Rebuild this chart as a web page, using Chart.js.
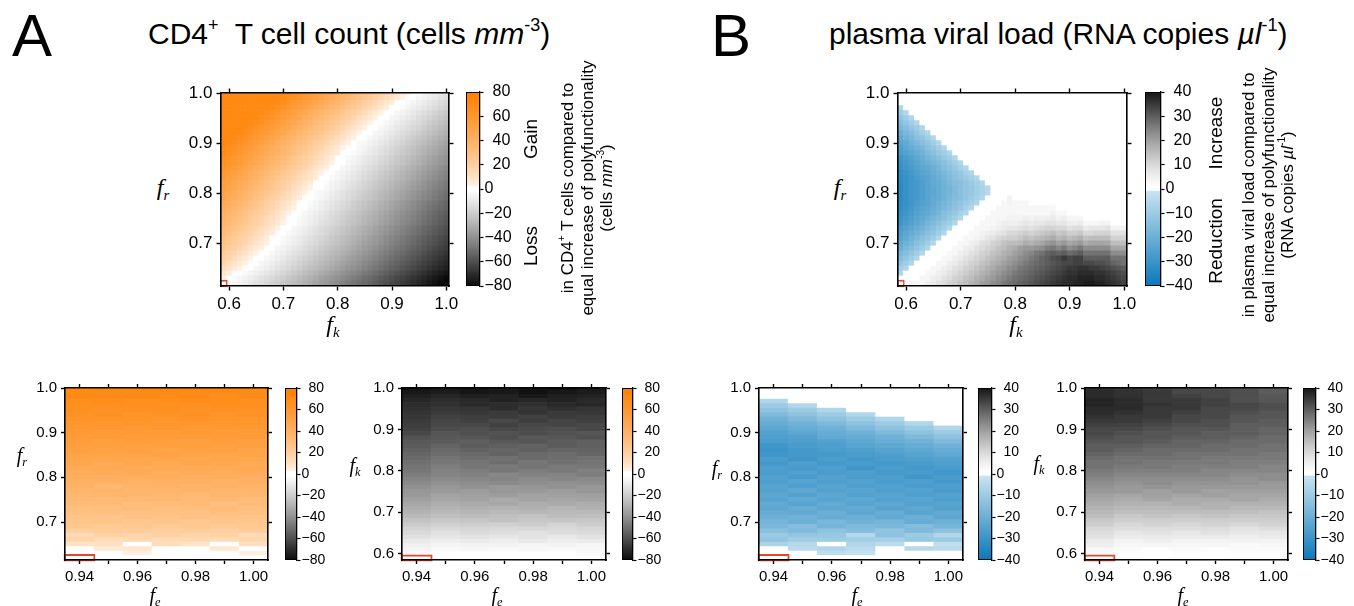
<!DOCTYPE html>
<html lang="en">
<head>
<meta charset="UTF-8">
<title>Polyfunctionality heatmaps</title>
<script src="https://cdn.jsdelivr.net/npm/chart.js@4"></script>
<style>
  html, body { margin: 0; background: #fff; }
  body { font-family: 'Liberation Sans', Arial, sans-serif; color: #000; }
  #page { position: relative; width: 1354px; height: 606px; }
  canvas { position: absolute; }
  .t { position: absolute; white-space: nowrap; line-height: 1; }
  .letter { font-size: 60px; }
  .title { font-size: 30px; }
  .sup { font-size: 60%; vertical-align: 0.75em; line-height: 0; }
  .ax { font-family: 'Liberation Serif', 'DejaVu Serif', serif; font-style: italic; transform: translate(-50%, -50%); }
  .ax sub { font-size: 62%; font-style: italic; vertical-align: -0.3em; }
  .big { font-size: 24px; }
  .small { font-size: 20px; }
  .rot { transform: translate(-50%, -50%) rotate(-90deg); text-align: center; }
  .word { font-size: 19px; }
  .note { font-size: 17px; line-height: 19.5px; }
</style>
</head>
<body>
<div id="page">
  <canvas id="cd4Main" width="292" height="235" style="left:171px;top:81px"></canvas>
  <canvas id="cd4MainBar" width="61" height="214" style="left:464px;top:82px"></canvas>
  <canvas id="viralMain" width="293" height="235" style="left:848px;top:81px"></canvas>
  <canvas id="viralMainBar" width="63" height="214" style="left:1143px;top:82px"></canvas>

  <canvas id="cd4Fr" width="255" height="210" style="left:21px;top:378px"></canvas>
  <canvas id="cd4FrBar" width="54" height="190" style="left:283px;top:379px"></canvas>
  <canvas id="cd4Fk" width="256" height="210" style="left:358px;top:378px"></canvas>
  <canvas id="cd4FkBar" width="53" height="190" style="left:620px;top:379px"></canvas>
  <canvas id="viralFr" width="256" height="210" style="left:715px;top:378px"></canvas>
  <canvas id="viralFrBar" width="56" height="190" style="left:976px;top:379px"></canvas>
  <canvas id="viralFk" width="255" height="210" style="left:1041px;top:378px"></canvas>
  <canvas id="viralFkBar" width="55" height="190" style="left:1301px;top:379px"></canvas>

  <div class="t letter" style="left:12px;top:6px">A</div>
  <div class="t title" style="left:148px;top:19px">CD4<span class="sup">+</span>&nbsp; T cell count (cells <i>mm</i><span class="sup">-3</span>)</div>
  <div class="t letter" style="left:711px;top:6px">B</div>
  <div class="t title" style="left:829px;top:19px">plasma viral load (RNA copies <i>µl</i><span class="sup">-1</span>)</div>

  <div class="t ax big" style="left:163px;top:189px"><i>f</i><sub>r</sub></div>
  <div class="t ax big" style="left:333px;top:326px"><i>f</i><sub>k</sub></div>
  <div class="t ax big" style="left:840px;top:189px"><i>f</i><sub>r</sub></div>
  <div class="t ax big" style="left:1016px;top:326px"><i>f</i><sub>k</sub></div>

  <div class="t ax small" style="left:22px;top:457px"><i>f</i><sub>r</sub></div>
  <div class="t ax small" style="left:155px;top:597px"><i>f</i><sub>e</sub></div>
  <div class="t ax small" style="left:355px;top:467px"><i>f</i><sub>k</sub></div>
  <div class="t ax small" style="left:497px;top:597px"><i>f</i><sub>e</sub></div>
  <div class="t ax small" style="left:717px;top:470px"><i>f</i><sub>r</sub></div>
  <div class="t ax small" style="left:857px;top:597px"><i>f</i><sub>e</sub></div>
  <div class="t ax small" style="left:1039px;top:465px"><i>f</i><sub>k</sub></div>
  <div class="t ax small" style="left:1183px;top:597px"><i>f</i><sub>e</sub></div>

  <div class="t rot word" style="left:530px;top:139px">Gain</div>
  <div class="t rot word" style="left:530px;top:246px">Loss</div>
  <div class="t rot note" style="left:587px;top:188px">in CD4<span class="sup">+</span> T cells compared to<br>equal increase of polyfunctionality<br>(cells <i>mm</i><span class="sup">-3</span>)</div>

  <div class="t rot word" style="left:1215px;top:133px">Increase</div>
  <div class="t rot word" style="left:1215px;top:241px">Reduction</div>
  <div class="t rot note" style="left:1268px;top:195px">in plasma viral load compared to<br>equal increase of polyfunctionality<br>(RNA copies <i>µl</i><span class="sup">-1</span>)</div>
</div>

<script>
// grid coordinates
const fkCols = [0.59,0.60,0.61,0.62,0.63,0.64,0.65,0.66,0.67,0.68,0.69,0.70,0.71,0.72,0.73,0.74,0.75,0.76,0.77,0.78,0.79,0.80,0.81,0.82,0.83,0.84,0.85,0.86,0.87,0.88,0.89,0.90,0.91,0.92,0.93,0.94,0.95,0.96,0.97,0.98,0.99,1.00];
const frRows = [1.00,0.99,0.98,0.97,0.96,0.95,0.94,0.93,0.92,0.91,0.90,0.89,0.88,0.87,0.86,0.85,0.84,0.83,0.82,0.81,0.80,0.79,0.78,0.77,0.76,0.75,0.74,0.73,0.72,0.71,0.70,0.69,0.68,0.67,0.66,0.65,0.64,0.63,0.62];
const fkRows = [1.00,0.99,0.98,0.97,0.96,0.95,0.94,0.93,0.92,0.91,0.90,0.89,0.88,0.87,0.86,0.85,0.84,0.83,0.82,0.81,0.80,0.79,0.78,0.77,0.76,0.75,0.74,0.73,0.72,0.71,0.70,0.69,0.68,0.67,0.66,0.65,0.64,0.63,0.62,0.61,0.60,0.59];
const feCols = [0.94,0.95,0.96,0.97,0.98,0.99,1.00];

// reference parameter set (red boxes)
const refMain = [0.59, 0.62];
const refFeFr = [0.94, 0.62];
const refFeFk = [0.94, 0.59];

// tick labels
const fkTicks = [0.6,0.7,0.8,0.9,1.0];
const frTicks = [0.7,0.8,0.9,1.0];
const feTicks = [0.94,0.95,0.96,0.97,0.98,0.99,1.00];
const cd4BarTicks = [-80,-60,-40,-20,0,20,40,60,80];
const viralBarTicks = [-40,-30,-20,-10,0,10,20,30,40];

// A, top: change in CD4+ T cells, rows fr (top to bottom) x cols fk
const cd4Fk = [
[72,72,72,72,72,72,72,72,72,72,72,72,71,68,65,62,59,56,53,50,47,43,40,37,34,31,28,25,22,19,16,12,9,6,3,0,-2,-4,-6,-8,-10,-12],
[72,72,72,72,72,72,72,72,72,72,72,71,68,65,62,59,56,53,50,47,43,40,37,34,31,28,25,22,19,16,12,9,6,3,0,-2,-4,-6,-8,-10,-12,-14],
[72,72,72,72,72,72,72,72,72,72,70,67,64,60,57,54,51,48,45,42,39,36,33,29,26,23,20,17,14,11,8,5,2,-1,-3,-5,-7,-9,-11,-13,-15,-17],
[72,72,72,72,72,72,72,72,72,70,67,64,60,57,54,51,48,45,42,39,36,33,29,26,23,20,17,14,11,8,5,2,-1,-3,-5,-7,-9,-11,-13,-15,-17,-19],
[72,72,72,72,72,72,72,71,68,65,62,59,56,53,50,47,43,40,37,34,31,28,25,22,19,16,12,9,6,3,0,-2,-4,-6,-8,-10,-12,-14,-16,-18,-20,-22],
[72,72,72,72,72,72,71,68,65,62,59,56,53,50,47,43,40,37,34,31,28,25,22,19,16,12,9,6,3,0,-2,-4,-6,-8,-10,-12,-14,-16,-18,-20,-22,-24],
[72,72,72,72,72,71,68,65,62,59,56,53,50,47,43,40,37,34,31,28,25,22,19,16,12,9,6,3,0,-2,-4,-6,-8,-10,-12,-14,-16,-18,-20,-22,-24,-26],
[72,72,72,72,71,68,65,62,59,56,53,50,47,43,40,37,34,31,28,25,22,19,16,12,9,6,3,0,-2,-4,-6,-8,-10,-12,-14,-16,-18,-20,-22,-24,-26,-28],
[72,72,72,71,68,65,62,59,56,53,50,47,43,40,37,34,31,28,25,22,19,16,12,9,6,3,0,-2,-4,-6,-8,-10,-12,-14,-16,-18,-20,-22,-24,-26,-28,-30],
[72,72,71,68,65,62,59,56,53,50,47,43,40,37,34,31,28,25,22,19,16,12,9,6,3,0,-2,-4,-6,-8,-10,-12,-14,-16,-18,-20,-22,-24,-26,-28,-30,-32],
[72,71,68,65,62,59,56,53,50,47,43,40,37,34,31,28,25,22,19,16,12,10,6,3,0,-3,-4,-6,-8,-10,-12,-14,-16,-18,-20,-22,-24,-26,-28,-30,-32,-34],
[71,68,65,62,59,56,53,50,47,43,40,37,34,31,28,25,22,19,16,12,9,6,3,0,-2,-4,-6,-8,-10,-12,-14,-16,-18,-20,-22,-24,-26,-28,-30,-32,-34,-36],
[70,67,64,60,57,54,51,48,45,42,39,36,33,29,26,23,20,17,14,11,8,5,2,-1,-3,-5,-7,-9,-11,-13,-15,-17,-19,-21,-23,-25,-27,-29,-31,-33,-35,-37],
[67,64,60,57,54,51,48,45,42,39,36,33,29,26,23,20,17,14,11,8,5,2,-1,-3,-5,-7,-9,-11,-13,-15,-17,-19,-21,-23,-25,-27,-29,-31,-33,-35,-37,-39],
[65,62,59,56,53,50,47,43,40,37,34,31,28,25,22,19,16,12,9,6,3,0,-2,-4,-6,-8,-10,-12,-14,-16,-18,-20,-22,-24,-26,-28,-30,-32,-34,-36,-38,-40],
[62,59,56,53,50,47,43,40,37,34,31,28,25,22,19,16,12,9,6,3,0,-2,-4,-6,-8,-10,-12,-14,-16,-18,-20,-22,-24,-26,-28,-30,-32,-34,-36,-38,-40,-42],
[59,56,53,50,47,43,40,37,34,31,28,25,22,19,16,12,9,6,3,0,-2,-4,-6,-8,-10,-12,-14,-16,-18,-20,-22,-24,-26,-28,-30,-32,-34,-36,-38,-40,-42,-44],
[57,54,51,48,45,42,39,36,33,29,26,23,20,17,14,11,8,5,2,-1,-3,-5,-7,-9,-11,-13,-15,-17,-19,-21,-23,-25,-27,-29,-31,-33,-35,-37,-39,-41,-43,-45],
[54,51,48,45,42,39,36,33,29,26,23,20,17,14,11,8,5,2,-1,-3,-5,-7,-9,-11,-13,-15,-17,-19,-21,-23,-25,-27,-29,-31,-33,-35,-37,-39,-41,-43,-45,-47],
[53,50,47,43,40,37,34,31,28,25,22,19,16,12,9,6,3,0,-2,-4,-6,-8,-10,-12,-14,-16,-18,-20,-22,-24,-26,-28,-30,-32,-34,-36,-38,-40,-42,-44,-46,-48],
[50,47,43,40,37,34,31,28,25,22,19,16,12,9,7,3,0,-3,-4,-6,-8,-10,-12,-14,-16,-18,-20,-22,-24,-26,-28,-30,-32,-34,-36,-38,-40,-42,-44,-46,-48,-50],
[48,45,42,39,36,33,29,26,23,20,17,14,11,8,5,2,-1,-3,-5,-7,-9,-11,-13,-15,-17,-19,-21,-23,-25,-27,-29,-31,-33,-35,-37,-39,-41,-43,-45,-47,-49,-51],
[45,42,39,36,33,29,26,23,20,17,14,11,8,5,2,-1,-3,-5,-7,-9,-11,-13,-15,-17,-19,-21,-23,-25,-27,-29,-31,-33,-35,-37,-39,-41,-43,-45,-47,-49,-51,-53],
[43,40,37,34,31,28,25,22,19,16,12,9,6,3,0,-2,-4,-6,-8,-10,-12,-14,-16,-18,-20,-22,-24,-26,-28,-30,-32,-34,-36,-38,-40,-42,-44,-46,-48,-50,-52,-54],
[40,37,34,31,28,25,22,19,16,12,9,6,3,0,-2,-4,-6,-8,-10,-12,-14,-16,-18,-20,-22,-24,-26,-28,-30,-32,-34,-36,-38,-40,-42,-44,-46,-48,-50,-52,-54,-56],
[39,36,33,29,26,23,20,17,14,11,8,5,2,-1,-3,-5,-7,-9,-11,-13,-15,-17,-19,-21,-23,-25,-27,-29,-31,-33,-35,-37,-39,-41,-43,-45,-47,-49,-51,-53,-55,-57],
[37,34,31,28,25,22,19,16,12,9,6,3,0,-2,-4,-6,-8,-10,-12,-14,-16,-18,-20,-22,-24,-26,-28,-30,-32,-34,-36,-38,-40,-42,-44,-46,-48,-50,-52,-54,-56,-58],
[34,31,28,25,22,19,16,12,9,6,3,0,-2,-4,-6,-8,-10,-12,-14,-16,-18,-20,-22,-24,-26,-28,-30,-32,-34,-36,-38,-40,-42,-44,-46,-48,-50,-52,-54,-56,-58,-60],
[33,29,26,23,20,17,14,11,8,5,2,-1,-3,-5,-7,-9,-11,-13,-15,-17,-19,-21,-23,-25,-27,-29,-31,-33,-35,-37,-39,-41,-43,-45,-47,-49,-51,-53,-55,-57,-59,-61],
[29,26,23,20,17,14,11,8,5,2,-1,-3,-5,-7,-9,-11,-13,-15,-17,-19,-21,-23,-25,-27,-29,-31,-33,-35,-37,-39,-41,-43,-45,-47,-49,-51,-53,-55,-57,-59,-61,-63],
[28,25,22,19,16,12,9,6,3,0,-2,-4,-6,-8,-10,-12,-14,-16,-18,-20,-22,-24,-26,-28,-30,-32,-34,-36,-38,-40,-42,-44,-46,-48,-50,-52,-54,-56,-58,-60,-62,-64],
[25,22,19,16,12,9,6,3,0,-2,-4,-6,-8,-10,-12,-14,-16,-18,-20,-22,-24,-26,-28,-30,-32,-34,-36,-38,-40,-42,-44,-46,-48,-50,-52,-54,-56,-58,-60,-62,-64,-66],
[22,19,16,12,9,6,3,0,-2,-4,-6,-8,-10,-12,-14,-16,-18,-20,-22,-24,-26,-28,-30,-32,-34,-36,-38,-40,-42,-44,-46,-48,-50,-52,-54,-56,-58,-60,-62,-64,-66,-68],
[19,16,12,9,6,3,0,-2,-4,-6,-8,-10,-12,-14,-16,-18,-20,-22,-24,-26,-28,-30,-32,-34,-36,-38,-40,-42,-44,-46,-48,-50,-52,-54,-56,-58,-60,-62,-64,-66,-68,-70],
[16,12,9,6,3,0,-2,-4,-6,-8,-10,-12,-14,-16,-18,-20,-22,-24,-26,-28,-30,-32,-34,-36,-38,-40,-42,-44,-46,-48,-50,-52,-54,-56,-58,-60,-62,-64,-66,-68,-70,-72],
[12,9,6,3,0,-2,-4,-6,-8,-10,-12,-14,-16,-18,-20,-22,-24,-26,-28,-30,-32,-34,-36,-38,-40,-42,-44,-46,-48,-50,-52,-54,-56,-58,-60,-62,-64,-66,-68,-70,-72,-74],
[8,5,2,-1,-3,-5,-7,-9,-11,-13,-15,-17,-19,-21,-23,-25,-27,-29,-31,-33,-35,-37,-39,-41,-43,-45,-47,-49,-51,-53,-55,-57,-59,-61,-63,-65,-67,-69,-71,-73,-75,-77],
[3,0,-2,-4,-6,-8,-10,-12,-14,-16,-18,-20,-22,-24,-26,-28,-30,-32,-34,-36,-38,-40,-42,-44,-46,-48,-50,-52,-54,-56,-58,-60,-62,-64,-66,-68,-70,-72,-74,-76,-78,-80],
[0,-2,-4,-6,-8,-10,-12,-14,-16,-18,-20,-22,-24,-26,-28,-30,-32,-34,-36,-38,-40,-42,-44,-46,-48,-50,-52,-54,-56,-58,-60,-62,-64,-66,-68,-70,-72,-74,-76,-78,-80,-80]
];

// B, top: change in plasma viral load, rows fr (top to bottom) x cols fk
const viralFk = [
[0,0,0,0,0,0,0,0,0,0,0,0,0,0,0,0,0,0,0,0,0,0,0,0,0,0,0,0,0,0,0,0,0,0,0,0,0,0,0,0,0,0],
[0,0,0,0,0,0,0,0,0,0,0,0,0,0,0,0,0,0,0,0,0,0,0,0,0,0,0,0,0,0,0,0,0,0,0,0,0,0,0,0,0,0],
[0,0,0,0,0,0,0,0,0,0,0,0,0,0,0,0,0,0,0,0,0,0,0,0,0,0,0,0,0,0,0,0,0,0,0,0,0,0,0,0,0,0],
[-6,0,0,0,0,0,0,0,0,0,0,0,0,0,0,0,0,0,0,0,0,0,0,0,0,0,0,0,0,0,0,0,0,0,0,0,0,0,0,0,0,0],
[-9,-6,0,0,0,0,0,0,0,0,0,0,0,0,0,0,0,0,0,0,0,0,0,0,0,0,0,0,0,0,0,0,0,0,0,0,0,0,0,0,0,0],
[-12,-9,-6,0,0,0,0,0,0,0,0,0,0,0,0,0,0,0,0,0,0,0,0,0,0,0,0,0,0,0,0,0,0,0,0,0,0,0,0,0,0,0],
[-15,-12,-9,-6,0,0,0,0,0,0,0,0,0,0,0,0,0,0,0,0,0,0,0,0,0,0,0,0,0,0,0,0,0,0,0,0,0,0,0,0,0,0],
[-17,-15,-12,-9,-6,0,0,0,0,0,0,0,0,0,0,0,0,0,0,0,0,0,0,0,0,0,0,0,0,0,0,0,0,0,0,0,0,0,0,0,0,0],
[-20,-17,-15,-12,-9,-6,0,0,0,0,0,0,0,0,0,0,0,0,0,0,0,0,0,0,0,0,0,0,0,0,0,0,0,0,0,0,0,0,0,0,0,0],
[-22,-19,-17,-14,-12,-9,-6,0,0,0,0,0,0,0,0,0,0,0,0,0,0,0,0,0,0,0,0,0,0,0,0,0,0,0,0,0,0,0,0,0,0,0],
[-24,-22,-19,-17,-14,-12,-9,-6,0,0,0,0,0,0,0,0,0,0,0,0,0,0,0,0,0,0,0,0,0,0,0,0,0,0,0,0,0,0,0,0,0,0],
[-26,-23,-21,-19,-17,-14,-12,-9,-6,0,0,0,0,0,0,0,0,0,0,0,0,0,0,0,0,0,0,0,0,0,0,0,0,0,0,0,0,0,0,0,0,0],
[-27,-25,-23,-21,-19,-16,-14,-11,-9,-6,0,0,0,0,0,0,0,0,0,0,0,0,0,0,0,0,0,0,0,0,0,0,0,0,0,0,0,0,0,0,0,0],
[-29,-27,-25,-23,-21,-18,-16,-14,-11,-9,-6,0,0,0,0,0,0,0,0,0,0,0,0,0,0,0,0,0,0,0,0,0,0,0,0,0,0,0,0,0,0,0],
[-30,-28,-26,-24,-22,-20,-18,-16,-14,-11,-9,-6,0,0,0,0,0,0,0,0,0,0,0,0,0,0,0,0,0,0,0,0,0,0,0,0,0,0,0,0,0,0],
[-31,-29,-27,-25,-23,-22,-20,-18,-15,-13,-11,-8,-6,0,0,0,0,0,0,0,0,0,0,0,0,0,0,0,0,0,0,0,0,0,0,0,0,0,0,0,0,0],
[-32,-30,-28,-26,-24,-23,-21,-19,-17,-15,-13,-11,-8,-6,0,0,0,0,0,0,0,0,0,0,0,0,0,0,0,0,0,0,0,0,0,0,0,0,0,0,0,0],
[-32,-31,-29,-27,-25,-24,-22,-20,-18,-16,-14,-12,-10,-8,-6,0,0,0,0,0,0,0,0,0,0,0,0,0,0,0,0,0,0,0,0,0,0,0,0,0,0,0],
[-33,-31,-29,-28,-26,-24,-22,-21,-19,-17,-15,-14,-12,-10,-8,-6,0,0,0,0,0,0,0,0,0,0,0,0,0,0,0,0,0,0,0,0,0,0,0,0,0,0],
[-33,-31,-29,-28,-26,-24,-23,-21,-19,-18,-16,-14,-12,-11,-9,-7,-5,0,0,0,0,0,0,0,0,0,0,0,0,0,0,0,0,0,0,0,0,0,0,0,0,0],
[-33,-31,-29,-28,-26,-24,-23,-21,-19,-18,-16,-14,-12,-11,-9,-7,-5,0,0,0,0,0,0,0,0,0,0,0,0,0,0,0,0,0,0,0,0,0,0,0,0,0],
[-33,-31,-29,-28,-26,-24,-22,-21,-19,-17,-15,-14,-12,-10,-8,-6,0,0,0,0,4,0,0,0,0,0,0,0,0,0,0,0,0,0,0,0,0,0,0,0,0,0],
[-32,-31,-29,-27,-25,-24,-22,-20,-18,-16,-14,-12,-10,-8,-6,0,0,0,0,3,4,3,3,3,0,0,0,0,0,0,0,0,0,0,0,0,0,0,0,0,0,0],
[-32,-30,-28,-26,-24,-23,-21,-19,-17,-15,-13,-11,-8,-6,0,0,0,0,3,3,3,3,3,3,3,3,3,3,3,0,0,0,0,0,0,0,0,0,0,0,0,0],
[-31,-29,-27,-25,-23,-22,-20,-18,-15,-13,-11,-8,-6,0,0,0,0,3,3,3,3,3,3,3,3,3,3,3,4,3,3,0,0,0,0,0,0,0,0,0,0,0],
[-30,-28,-26,-24,-22,-20,-18,-16,-14,-11,-9,-6,0,0,0,0,3,3,3,3,4,4,4,5,4,5,5,5,6,4,5,3,3,3,0,0,0,0,0,0,0,0],
[-29,-27,-25,-23,-21,-18,-16,-14,-11,-9,-6,0,0,0,0,3,3,3,4,5,5,5,6,7,6,7,7,8,8,7,7,5,5,6,3,3,3,4,4,0,0,0],
[-27,-25,-23,-21,-19,-16,-14,-11,-9,-6,0,0,0,0,3,3,3,4,5,6,7,7,8,9,8,9,10,11,11,10,10,8,9,9,6,7,7,7,8,4,4,4],
[-26,-23,-21,-19,-17,-14,-12,-9,-6,0,0,0,0,3,3,4,5,6,7,8,10,10,11,12,11,12,13,14,15,13,14,12,12,13,10,10,11,11,11,8,8,8],
[-24,-22,-19,-17,-14,-12,-9,-6,0,0,0,0,3,3,4,5,7,8,10,11,12,12,13,15,14,15,16,17,18,16,17,15,16,17,14,15,15,15,15,11,11,11],
[-22,-19,-17,-14,-12,-9,-6,0,0,0,0,3,3,5,6,8,9,11,12,14,15,15,16,18,17,18,19,21,22,20,21,19,20,21,18,19,19,19,19,15,15,15],
[-20,-17,-15,-12,-9,-6,0,0,0,0,3,3,5,6,8,9,11,12,14,15,17,18,20,21,21,22,23,25,26,24,26,23,24,26,23,23,23,23,23,19,19,19],
[-17,-15,-12,-9,-6,0,0,0,0,3,3,5,6,8,9,11,12,14,15,17,18,20,21,23,24,26,27,29,30,29,30,28,29,30,27,27,27,27,27,23,23,23],
[-15,-12,-9,-6,0,0,0,0,3,3,5,6,8,9,11,12,14,15,17,18,20,21,23,24,26,27,29,30,32,33,35,33,34,34,30,30,30,30,30,27,27,27],
[-12,-9,-6,0,0,0,0,3,3,5,6,8,9,11,12,14,15,17,18,20,21,23,24,26,27,28,29,30,31,32,33,33,34,34,33,33,32,32,31,29,28,27],
[-9,-6,0,0,0,0,3,3,5,6,8,9,11,12,14,15,17,18,20,21,23,24,26,27,28,29,30,31,32,33,34,35,35,36,36,35,35,34,33,32,31,30],
[-6,0,0,0,0,3,3,5,6,8,9,11,12,14,15,17,18,20,21,23,24,26,27,28,29,30,31,32,33,34,35,36,36,37,37,37,36,36,35,34,33,32],
[0,0,0,0,3,3,5,6,8,9,11,12,14,15,17,18,20,21,23,24,26,27,28,29,30,31,32,33,34,35,36,37,37,38,38,38,37,37,36,35,34,33],
[0,0,3,3,3,5,6,8,9,11,12,14,15,17,18,20,21,23,24,26,27,28,29,30,31,32,33,34,35,36,37,37,38,38,39,39,38,38,37,36,35,34]
];

// A, bottom left: rows fr x cols fe
const cd4FeFr = [
[72,71,73,72,72,71,72],[71,70,71,72,70,71,70],[70,69,70,69,70,68,69],[68,69,67,68,69,68,67],
[67,66,67,66,65,67,66],[66,64,65,66,64,65,64],[64,65,63,64,65,62,64],[62,63,63,61,62,63,61],
[61,60,62,60,61,60,61],[59,60,58,60,58,59,58],[58,57,58,56,58,57,56],[56,57,55,56,55,56,57],
[55,53,55,54,53,55,53],[53,54,52,53,54,52,53],[52,51,52,50,51,52,50],[50,49,50,51,49,48,50],
[48,49,47,48,47,49,47],[47,45,47,46,48,46,45],[45,46,44,45,44,45,46],[43,44,45,42,44,43,44],
[42,41,42,43,41,42,41],[40,41,39,40,41,39,40],[39,35,38,39,37,39,38],[37,38,36,37,38,36,37],
[35,36,37,35,34,36,35],[34,33,34,35,33,34,32],[32,33,31,32,33,30,32],[30,31,32,30,31,32,30],
[29,30,28,29,28,30,29],[27,26,28,27,28,26,27],[26,27,25,26,24,26,25],[24,23,24,22,24,23,24],
[20,22,21,20,21,19,21],[14,18,17,19,16,18,14],[16,12,15,13,15,14,16],[10,11,0,12,9,0,11],
[0,6,8,0,0,7,0],[0,0,4,2,0,0,4],[0,0,0,0,0,0,0]
];

// A, bottom right: rows fk x cols fe
const cd4FeFk = [
[-78,-76,-77,-75,-77,-79,-76],[-76,-75,-77,-76,-78,-76,-75],[-74,-72,-74,-73,-76,-74,-73],[-72,-70,-71,-73,-72,-73,-71],
[-70,-69,-71,-70,-69,-71,-72],[-69,-67,-68,-70,-67,-69,-68],[-68,-66,-67,-66,-68,-66,-67],[-67,-64,-65,-66,-64,-66,-65],
[-66,-63,-64,-62,-65,-63,-64],[-65,-62,-62,-64,-62,-63,-62],[-64,-61,-60,-62,-61,-60,-62],[-62,-58,-60,-59,-61,-59,-58],
[-59,-57,-58,-60,-57,-58,-59],[-57,-56,-55,-57,-58,-56,-55],[-56,-54,-56,-55,-54,-56,-55],[-55,-52,-54,-53,-55,-53,-54],
[-53,-51,-52,-54,-52,-51,-53],[-52,-49,-51,-50,-52,-51,-50],[-50,-48,-49,-51,-48,-50,-49],[-49,-46,-48,-47,-49,-47,-48],
[-48,-45,-46,-48,-46,-47,-45],[-46,-44,-45,-43,-45,-44,-46],[-44,-42,-43,-44,-42,-43,-42],[-42,-40,-41,-42,-41,-40,-41],
[-40,-38,-40,-38,-39,-40,-38],[-38,-37,-36,-38,-37,-36,-38],[-37,-34,-35,-36,-34,-35,-35],[-35,-33,-34,-32,-34,-33,-34],
[-33,-31,-32,-33,-31,-32,-31],[-31,-29,-30,-29,-30,-28,-30],[-29,-27,-28,-27,-28,-27,-27],[-27,-25,-26,-25,-24,-26,-25],
[-24,-22,-23,-24,-22,-23,-22],[-21,-19,-20,-19,-20,-18,-20],[-18,-16,-17,-16,-17,-16,-17],[-16,-13,-15,-14,-13,-14,-15],
[-13,-11,-12,-11,-12,-10,-12],[-10,-8,-9,-8,-10,-8,-9],[-7,-5,-6,-6,-5,-6,-5],[-5,-3,-4,-3,-4,-3,-4],
[-3,-2,-1,-2,-1,-2,-3],[0,-1,-1,0,-1,0,-1]
];

// B, bottom left: rows fr x cols fe
const viralFeFr = [
[0,0,0,0,0,0,0],[0,0,0,0,0,0,0],[0,0,0,0,0,0,0],[-6,0,0,0,0,0,0],
[-10,-6,0,0,0,0,0],[-13,-10,-6,0,0,0,0],[-16,-13,-10,-6,0,0,0],[-19,-16,-13,-10,-6,0,0],
[-21,-19,-16,-13,-10,-6,0],[-23,-21,-19,-16,-13,-10,-6],[-25,-23,-21,-19,-16,-13,-10],[-26,-25,-22,-21,-19,-16,-13],
[-27,-26,-25,-23,-21,-19,-16],[-29,-27,-26,-24,-23,-21,-19],[-30,-28,-27,-26,-24,-23,-21],[-29,-28,-28,-27,-26,-24,-23],
[-27,-29,-27,-28,-27,-26,-25],[-28,-26,-28,-27,-28,-27,-26],[-26,-27,-26,-29,-27,-28,-27],[-27,-25,-27,-26,-28,-27,-29],
[-25,-27,-25,-27,-26,-29,-27],[-26,-24,-26,-25,-27,-26,-28],[-24,-26,-24,-26,-25,-27,-26],[-25,-23,-25,-24,-26,-25,-27],
[-23,-25,-23,-25,-24,-26,-25],[-24,-22,-24,-23,-25,-24,-26],[-22,-24,-22,-24,-23,-25,-24],[-23,-21,-23,-22,-24,-23,-25],
[-21,-22,-20,-23,-21,-24,-22],[-20,-19,-21,-20,-22,-20,-23],[-18,-20,-17,-19,-18,-21,-19],[-17,-15,-18,-16,-17,-15,-18],
[-14,-16,-13,-15,-12,-16,-13],[-10,-12,-11,-5,-13,-10,-6],[-12,-9,-10,-9,-8,-11,-10],[-7,-5,0,-6,-4,0,-3],
[0,-4,-6,-4,0,-5,-4],[0,0,-3,-2,0,0,0],[0,0,0,0,0,0,0]
];

// B, bottom right: rows fk x cols fe
const viralFeFk = [
[36,35,34,33,32,31,30],[37,36,35,33,33,32,30],[37,36,35,34,33,32,31],[38,37,35,35,34,32,31],
[38,37,36,35,34,33,32],[37,37,35,35,33,33,32],[37,36,35,34,33,32,31],[36,35,35,33,33,31,31],
[35,35,34,33,32,31,30],[34,34,33,32,32,30,30],[33,33,32,31,31,30,29],[33,32,31,31,30,30,29],
[32,31,31,30,30,29,28],[31,31,30,29,29,28,28],[30,30,29,29,28,28,27],[30,29,28,28,28,27,27],
[29,28,28,27,27,27,26],[28,27,27,27,26,26,26],[27,27,26,26,26,25,25],[27,26,26,25,25,25,24],
[26,25,25,25,24,24,24],[25,24,24,24,24,23,23],[24,23,23,23,23,22,23],[23,22,23,22,22,22,21],
[22,21,22,21,21,21,21],[21,21,20,21,20,20,20],[20,19,20,19,20,19,19],[19,18,19,18,18,19,18],
[18,17,17,18,17,17,17],[17,16,16,16,17,16,16],[16,15,15,15,15,15,14],[15,13,14,13,14,13,13],
[13,12,12,12,12,12,12],[12,10,11,10,11,10,11],[10,9,9,9,9,8,9],[9,7,8,7,8,7,7],
[8,6,6,6,6,5,6],[6,4,5,4,4,4,4],[5,3,3,3,3,2,3],[3,2,1,2,1,2,2],
[2,1,0,1,0,1,1],[0,0,0,0,0,0,0]
];

const RED = '#e8452c';
Chart.defaults.font.family = "'Liberation Sans', Arial, sans-serif";

function cd4Color(v) {
  if (Math.abs(v) < 2.5) return '#ffffff';
  if (v > 0) {
    const t = Math.pow(Math.min(v / 80, 1), 0.7);
    return 'rgb(255,' + Math.round(255 - 127 * t) + ',' + Math.round(255 - 255 * t) + ')';
  }
  const g = Math.round(255 - 245 * Math.pow(Math.min(-v / 80, 1), 1.15));
  return 'rgb(' + g + ',' + g + ',' + g + ')';
}

function viralColor(v) {
  if (Math.abs(v) < 1) return '#ffffff';
  if (v > 0) {
    const g = Math.round(255 - 235 * Math.pow(Math.min(v / 40, 1), 1.3));
    return 'rgb(' + g + ',' + g + ',' + g + ')';
  }
  const t = Math.min(-v / 40, 1);
  return 'rgb(' + Math.round(205 - 195 * t) + ',' + Math.round(230 - 110 * t) + ',' + Math.round(242 - 57 * t) + ')';
}

// one side of the box: axis line plus outward tick marks, drawn above the cells
function axis(pos, lim, ticks, size, fmt, font, tickLen) {
  const vertical = pos === 'left' || pos === 'right';
  return {
    type: 'linear', position: pos, min: lim[0], max: lim[1], offset: false,
    afterBuildTicks: s => { s.ticks = ticks.map(v => ({ value: v })); },
    afterFit: s => {
      if (vertical) s.width = size; else s.height = size;
      s.paddingLeft = 0; s.paddingRight = 0; s.paddingTop = 0; s.paddingBottom = 0;
    },
    ticks: { display: !!fmt, callback: fmt || (() => ''), autoSkip: false, maxRotation: 0, minRotation: 0, padding: 4, color: '#000', font: { size: font } },
    grid: { display: true, z: 1, drawOnChartArea: false, drawTicks: true, tickLength: tickLen, tickWidth: 1.4, tickColor: '#000', color: '#000', offset: false },
    border: { display: true, z: 1, color: '#000', width: 1.6 }
  };
}

function heatmap(id, o) {
  const hy = Math.abs(o.ys[0] - o.ys[1]) / 2;
  const cells = [];
  o.ys.forEach((y, i) => {
    o.xs.forEach((x, j) => {
      cells.push({ x: x, y: [y - hy, y + hy], v: o.grid[i][j] });
    });
  });
  const ref = [{ x: o.ref[0], y: [o.ref[1] - hy * o.refH, o.ref[1] + hy * o.refH] }];
  new Chart(document.getElementById(id), {
    type: 'bar',
    data: {
      datasets: [
        // reference cell outline (index 0 is painted last)
        { data: ref, xAxisID: 'x', yAxisID: 'y', grouped: false, clip: 6,
          barPercentage: o.refW, categoryPercentage: 1, borderWidth: o.refLine, borderSkipped: false,
          borderColor: RED, backgroundColor: 'rgba(0,0,0,0)' },
        { data: cells, xAxisID: 'x', yAxisID: 'y', grouped: false, clip: 0,
          barPercentage: 1, categoryPercentage: 1, borderWidth: 0,
          backgroundColor: c => c.raw ? o.color(c.raw.v) : '#fff' }
      ]
    },
    options: {
      responsive: false, animation: false, devicePixelRatio: 1,
      layout: { padding: 0 },
      plugins: { legend: { display: false }, tooltip: { enabled: false } },
      scales: {
        x: axis('bottom', o.xLim, o.xTicks, o.xH, o.xFmt, o.font, o.tick),
        y: axis('left', o.yLim, o.yTicks, o.yW, o.yFmt, o.font, o.tick),
        x2: axis('top', o.xLim, o.xTicks, o.tH, null, o.font, o.tick),
        y2: axis('right', o.yLim, o.yTicks, o.rW, null, o.font, o.tick)
      }
    }
  });
}

function colorbar(id, o) {
  const lo = o.ticks[0], hi = o.ticks[o.ticks.length - 1];
  new Chart(document.getElementById(id), {
    type: 'bar',
    data: {
      labels: [''],
      datasets: [{
        data: [[lo, hi]], barPercentage: 1, categoryPercentage: 1,
        borderWidth: 1.3, borderSkipped: false, borderColor: '#000',
        backgroundColor: c => {
          const a = c.chart.chartArea;
          if (!a) return '#fff';
          const g = c.chart.ctx.createLinearGradient(0, a.bottom, 0, a.top);
          for (let i = 0; i <= 160; i++) g.addColorStop(i / 160, o.color(lo + (hi - lo) * i / 160));
          return g;
        }
      }]
    },
    options: {
      responsive: false, animation: false, devicePixelRatio: 1,
      layout: { padding: { top: o.pad, bottom: o.pad, left: 2, right: 0 } },
      plugins: { legend: { display: false }, tooltip: { enabled: false } },
      scales: {
        x: { display: false },
        y: {
          position: 'right', min: lo, max: hi,
          afterBuildTicks: s => { s.ticks = o.ticks.map(v => ({ value: v })); },
          afterFit: s => { s.width = o.w; s.paddingTop = 0; s.paddingBottom = 0; },
          ticks: { padding: 1, color: '#000', font: { size: o.font },
            callback: v => v === 0 ? '0' : (v < 0 ? '\u2212' + (-v) : '\u2002' + v) },
          grid: { display: true, z: 1, drawOnChartArea: false, drawTicks: true, tickLength: 3.5, tickWidth: 1.2, tickColor: '#000' },
          border: { display: true, z: 1, color: '#000', width: 1.3 }
        }
      }
    }
  });
}

const one = v => v.toFixed(1);
const feFmt = (v, i) => i % 2 ? '' : v.toFixed(2);
const bigOpts = { font: 17, tick: 4.5, yW: 50, xH: 30, tH: 12, rW: 14, refW: 1.45, refH: 1.45, refLine: 1.6 };
const smallOpts = { font: 15, tick: 4, yW: 44, xH: 28, tH: 10, rW: 8, refW: 1.1, refH: 1.7, refLine: 2 };

heatmap('cd4Main', Object.assign({}, bigOpts, { xs: fkCols, ys: frRows, grid: cd4Fk, color: cd4Color,
  xLim: [0.585, 1.005], yLim: [0.615, 1.0], xTicks: fkTicks, yTicks: frTicks, xFmt: one, yFmt: one, ref: refMain }));
heatmap('viralMain', Object.assign({}, bigOpts, { xs: fkCols, ys: frRows, grid: viralFk, color: viralColor,
  xLim: [0.585, 1.005], yLim: [0.615, 1.0], xTicks: fkTicks, yTicks: frTicks, xFmt: one, yFmt: one, ref: refMain }));

heatmap('cd4Fr', Object.assign({}, smallOpts, { xs: feCols, ys: frRows, grid: cd4FeFr, color: cd4Color,
  xLim: [0.935, 1.005], yLim: [0.615, 1.0], xTicks: feTicks, yTicks: frTicks, xFmt: feFmt, yFmt: one, ref: refFeFr }));
heatmap('cd4Fk', Object.assign({}, smallOpts, { xs: feCols, ys: fkRows, grid: cd4FeFk, color: cd4Color,
  xLim: [0.935, 1.005], yLim: [0.585, 1.0], xTicks: feTicks, yTicks: fkTicks, xFmt: feFmt, yFmt: one, ref: refFeFk }));
heatmap('viralFr', Object.assign({}, smallOpts, { xs: feCols, ys: frRows, grid: viralFeFr, color: viralColor,
  xLim: [0.935, 1.005], yLim: [0.615, 1.0], xTicks: feTicks, yTicks: frTicks, xFmt: feFmt, yFmt: one, ref: refFeFr }));
heatmap('viralFk', Object.assign({}, smallOpts, { xs: feCols, ys: fkRows, grid: viralFeFk, color: viralColor,
  xLim: [0.935, 1.005], yLim: [0.585, 1.0], xTicks: feTicks, yTicks: fkTicks, xFmt: feFmt, yFmt: one, ref: refFeFk }));

colorbar('cd4MainBar', { ticks: cd4BarTicks, color: cd4Color, font: 16, w: 45, pad: 10 });
colorbar('viralMainBar', { ticks: viralBarTicks, color: viralColor, font: 16, w: 45, pad: 10 });
colorbar('cd4FrBar', { ticks: cd4BarTicks, color: cd4Color, font: 14, w: 40, pad: 9 });
colorbar('cd4FkBar', { ticks: cd4BarTicks, color: cd4Color, font: 14, w: 40, pad: 9 });
colorbar('viralFrBar', { ticks: viralBarTicks, color: viralColor, font: 14, w: 40, pad: 9 });
colorbar('viralFkBar', { ticks: viralBarTicks, color: viralColor, font: 14, w: 40, pad: 9 });
</script>
</body>
</html>
